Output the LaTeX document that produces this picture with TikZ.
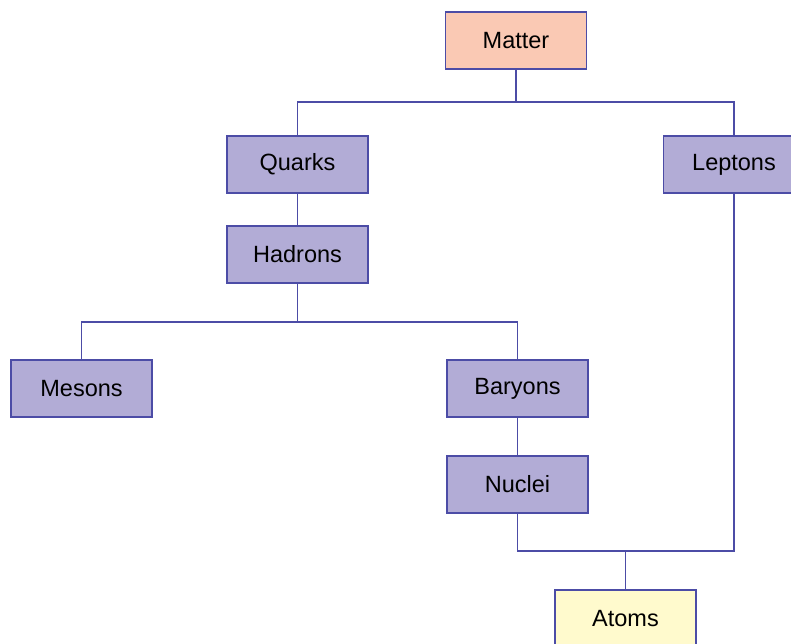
\documentclass[tikz,border=0pt]{standalone}
\usepackage{fontspec}
\setmainfont{Liberation Sans}
\begin{document}
\begin{tikzpicture}[x=1pt,y=-1pt,
  box/.style={draw=edgeblue, line width=1.2pt, minimum width=141pt, minimum height=57pt,
    inner sep=0pt, font=\fontsize{23.5}{28}\selectfont, text=black},
  particle/.style={box, fill=lilac},
  top/.style={box, fill=peach},
  final/.style={box, fill=paleyellow},
  link/.style={draw=edgeblue, line width=1.2pt}]
\definecolor{edgeblue}{RGB}{76,76,166}
\definecolor{lilac}{RGB}{178,172,214}
\definecolor{peach}{RGB}{250,201,180}
\definecolor{paleyellow}{RGB}{255,250,205}
\useasboundingbox (0,0) rectangle (791,643);
\begin{scope}
\clip (0,0) rectangle (791,643);
% boxes
\node[top] (matter) at (516,40.5) {Matter};
\node[particle] (quarks) at (297.5,164.5) {Quarks};
\node[particle] (leptons) at (734,164.5) {Leptons};
\node[particle] (hadrons) at (297.5,254.5) {Hadrons};
\node[particle] (mesons) at (81.5,388.5) {Mesons};
\node[particle] (baryons) at (517.5,388.5) {Baryons};
\node[particle] (nuclei) at (517.5,484.5) {Nuclei};
\node[final] (atoms) at (625.5,618.5) {Atoms};
% junction points
\coordinate (j1) at (516,102);
\coordinate (j2) at (297.5,322);
\coordinate (j3) at (625.5,551);
% connectors
\draw[link] (matter.south) -- (j1);
\draw[link] (quarks.north) |- (j1) -| (leptons.north);
\draw[link] (quarks.south) -- (hadrons.north);
\draw[link] (hadrons.south) -- (j2);
\draw[link] (mesons.north) |- (j2) -| (baryons.north);
\draw[link] (baryons.south) -- (nuclei.south |- baryons.south) -- (nuclei.north);
\draw[link] (nuclei.south) |- (j3) -| (leptons.south);
\draw[link] (j3) -- (atoms.north);
\end{scope}
\end{tikzpicture}
\end{document}
